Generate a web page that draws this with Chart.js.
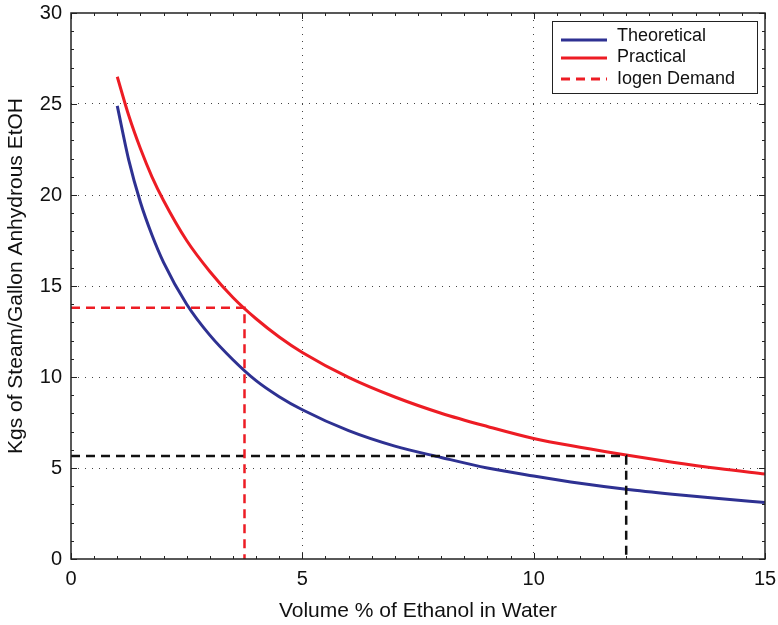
<!DOCTYPE html>
<html>
<head>
<meta charset="utf-8">
<script src="https://cdn.jsdelivr.net/npm/chart.js@4"></script>
<style>
  html, body { margin: 0; padding: 0; background: #fff; }
  #wrap { width: 778px; height: 625px; }
</style>
</head>
<body>
<div id="wrap"><canvas id="c"></canvas></div>
<script>
// values
const curveX = [1, 1.25, 1.5, 1.75, 2, 2.5, 3, 3.5, 4, 4.5, 5, 6, 7, 8, 9, 10, 11, 12, 13, 14, 15];
const theoretical = [24.9, 21.9, 19.6, 17.8, 16.3, 14.0, 12.3, 10.95, 9.8, 8.92, 8.2, 7.05, 6.2, 5.58, 5.0, 4.56, 4.16, 3.83, 3.56, 3.32, 3.11];
const practical = [26.5, 24.35, 22.55, 21.0, 19.7, 17.5, 15.8, 14.37, 13.2, 12.2, 11.35, 9.98, 8.9, 8.01, 7.28, 6.62, 6.14, 5.71, 5.32, 4.97, 4.67];
const iogenX = [0, 3.75, 3.75];
const iogenY = [13.8, 13.8, 0];
const markX = [0, 12, 12];
const markY = [5.66, 5.66, 0];
const xTicks = [0, 5, 10, 15];
const yTicks = [0, 5, 10, 15, 20, 25, 30];

const BLUE = '#2e3192';
const RED = '#ed1c24';
const FONT = '"Liberation Sans", Arial, sans-serif';

const pts = (xs, ys) => xs.map((x, i) => ({ x: x, y: ys[i] }));

// inward major/minor ticks, box, y title and legend
const frame = {
    id: 'frame',
    afterDatasetsDraw(chart) {
        const { ctx, chartArea: a, scales } = chart;
        ctx.save();
        ctx.strokeStyle = '#222';
        ctx.lineWidth = 1;
        for (let v = 0; v <= 15.001; v += 0.5) {
            const px = Math.round(scales.x.getPixelForValue(v)) + 0.5;
            const len = (Math.abs(v % 5) < 0.01) ? 6 : 3;
            ctx.beginPath();
            ctx.moveTo(px, a.bottom); ctx.lineTo(px, a.bottom - len);
            ctx.moveTo(px, a.top); ctx.lineTo(px, a.top + len);
            ctx.stroke();
        }
        for (let v = 0; v <= 30.001; v += 1) {
            const py = Math.round(scales.y.getPixelForValue(v)) + 0.5;
            const len = (v % 5 === 0) ? 6 : 3;
            ctx.beginPath();
            ctx.moveTo(a.left, py); ctx.lineTo(a.left + len, py);
            ctx.moveTo(a.right, py); ctx.lineTo(a.right - len, py);
            ctx.stroke();
        }
        ctx.lineWidth = 1.5;
        ctx.strokeRect(a.left, a.top, a.right - a.left, a.bottom - a.top);

        // y axis title
        ctx.save();
        ctx.translate(16, 276);
        ctx.rotate(-Math.PI / 2);
        ctx.font = '21px ' + FONT;
        ctx.fillStyle = '#111';
        ctx.textAlign = 'center';
        ctx.textBaseline = 'middle';
        ctx.fillText('Kgs of Steam/Gallon Anhydrous EtOH', 0, 0);
        ctx.restore();

        // legend box
        const items = chart.data.datasets.filter(d => d.label);
        const bx = 552, by = 21, bw = 205, bh = 72;
        ctx.fillStyle = '#fff';
        ctx.fillRect(bx, by, bw, bh);
        ctx.lineWidth = 1;
        ctx.strokeStyle = '#222';
        ctx.strokeRect(bx + 0.5, by + 0.5, bw, bh);
        const lineRows = [40, 58, 79];
        const textRows = [36, 57, 79];
        ctx.font = '18px ' + FONT;
        ctx.textBaseline = 'middle';
        items.forEach((d, i) => {
            ctx.strokeStyle = d.borderColor;
            ctx.lineWidth = 3;
            ctx.setLineDash(d.borderDash || []);
            ctx.beginPath();
            ctx.moveTo(561, lineRows[i]); ctx.lineTo(607, lineRows[i]);
            ctx.stroke();
            ctx.setLineDash([]);
            ctx.fillStyle = '#111';
            ctx.fillText(d.label, 617, textRows[i]);
        });
        ctx.restore();
    }
};

const gridColor = (lo, hi) => c => (c.tick.value === lo || c.tick.value === hi) ? 'rgba(0,0,0,0)' : '#444';

new Chart(document.getElementById('c'), {
    type: 'scatter',
    data: {
        datasets: [
            { label: 'Theoretical', data: pts(curveX, theoretical), borderColor: BLUE, borderWidth: 3, showLine: true, pointRadius: 0, cubicInterpolationMode: 'monotone', order: 2 },
            { label: 'Practical', data: pts(curveX, practical), borderColor: RED, borderWidth: 3, showLine: true, pointRadius: 0, cubicInterpolationMode: 'monotone', order: 2 },
            { label: 'Iogen Demand', data: pts(iogenX, iogenY), borderColor: RED, borderWidth: 2.5, borderDash: [9, 6], showLine: true, pointRadius: 0, order: 1 },
            { label: '', data: pts(markX, markY), borderColor: '#111', borderWidth: 2.5, borderDash: [9, 6], showLine: true, pointRadius: 0, order: 1 }
        ]
    },
    options: {
        responsive: true,
        maintainAspectRatio: false,
        animation: false,
        layout: { padding: { top: 13, right: 13, left: 0, bottom: 0 } },
        plugins: { legend: { display: false }, tooltip: { enabled: false } },
        scales: {
            x: {
                type: 'linear', min: 0, max: 15,
                afterBuildTicks: s => { s.ticks = xTicks.map(v => ({ value: v })); },
                afterFit: s => { s.height = 66; s.paddingLeft = 0; s.paddingRight = 0; },
                border: { display: false, dash: [1, 6] },
                grid: { drawTicks: false, color: gridColor(0, 15), lineWidth: 1 },
                ticks: { color: '#111', padding: 8, font: { family: FONT, size: 20 } },
                title: { display: true, text: 'Volume % of Ethanol in Water', color: '#111', font: { family: FONT, size: 21 }, padding: { top: 4, bottom: 1 } }
            },
            y: {
                type: 'linear', min: 0, max: 30,
                afterBuildTicks: s => { s.ticks = yTicks.map(v => ({ value: v })); },
                afterFit: s => { s.width = 71; s.paddingTop = 0; s.paddingBottom = 0; },
                border: { display: false, dash: [1, 6] },
                grid: { drawTicks: false, color: gridColor(0, 30), lineWidth: 1 },
                ticks: { color: '#111', padding: 9, font: { family: FONT, size: 20 } },
                title: { display: false }
            }
        }
    },
    plugins: [frame]
});
</script>
</body>
</html>
